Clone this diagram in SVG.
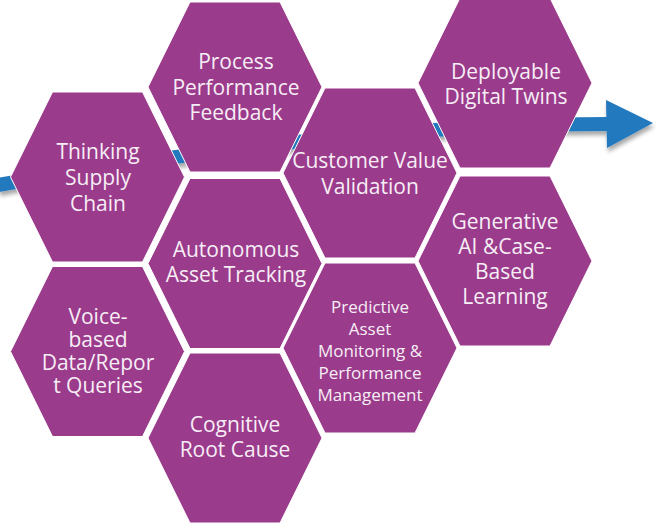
<svg xmlns="http://www.w3.org/2000/svg" xmlns:xlink="http://www.w3.org/1999/xlink" width="656" height="526" viewBox="0 0 656 526">
  <style>
    .hex { fill: #9B3B8C; stroke: #ffffff; stroke-width: 1; }
    .t { font-family: "Open Sans", "Liberation Sans", sans-serif; font-size: 21px; fill: #F6EEF5; text-anchor: middle; }
    .s { font-size: 17px; }
    .arrow { fill: none; stroke: #2479BD; stroke-width: 14; }
    .head { fill: #2479BD; }
  </style>
  <defs>
    <path id="hex" d="M-87,0 L-45,-85 L45,-85 L87,0 L45,85 L-45,85 Z"/>
    <filter id="shadow" x="-10%" y="-30%" width="120%" height="170%">
      <feDropShadow dx="1" dy="4" stdDeviation="2" flood-color="#000000" flood-opacity="0.35"/>
    </filter>
  </defs>
  <rect width="656" height="526" fill="#ffffff"/>
  <g id="connectors" filter="url(#shadow)">
    <path class="arrow" d="M-2,185 C200,150 400,124 608,124"/>
    <polygon class="head" points="606,100 653,123 607,148"/>
  </g>
  <g id="thinking-supply-chain">
    <use xlink:href="#hex" href="#hex" class="hex" transform="translate(97.5,177)"/>
    <text class="t" x="98" y="159">Thinking</text>
    <text class="t" x="98" y="185">Supply</text>
    <text class="t" x="98" y="211">Chain</text>
  </g>
  <g id="voice-based-queries">
    <use xlink:href="#hex" href="#hex" class="hex" transform="translate(97.5,351.5)"/>
    <text class="t" x="98" y="324">Voice-</text>
    <text class="t" x="98" y="347">based</text>
    <text class="t" x="98" y="370">Data/Repor</text>
    <text class="t" x="98" y="393">t Queries</text>
  </g>
  <g id="process-performance-feedback">
    <use xlink:href="#hex" href="#hex" class="hex" transform="translate(235,87)"/>
    <text class="t" x="236" y="69">Process</text>
    <text class="t" x="236" y="95">Performance</text>
    <text class="t" x="236" y="120">Feedback</text>
  </g>
  <g id="autonomous-asset-tracking">
    <use xlink:href="#hex" href="#hex" class="hex" transform="translate(235,263.5)"/>
    <text class="t" x="236" y="257">Autonomous</text>
    <text class="t" x="236" y="282">Asset Tracking</text>
  </g>
  <g id="cognitive-root-cause">
    <use xlink:href="#hex" href="#hex" class="hex" transform="translate(235,438)"/>
    <text class="t" x="235" y="432">Cognitive</text>
    <text class="t" x="235" y="457">Root Cause</text>
  </g>
  <g id="customer-value-validation">
    <use xlink:href="#hex" href="#hex" class="hex" transform="translate(370,173)"/>
    <text class="t" x="370" y="168">Customer Value</text>
    <text class="t" x="370" y="194">Validation</text>
  </g>
  <g id="predictive-asset-monitoring">
    <use xlink:href="#hex" href="#hex" class="hex" transform="translate(370,348)"/>
    <text class="t s" x="370" y="313">Predictive</text>
    <text class="t s" x="370" y="335">Asset</text>
    <text class="t s" x="370" y="357">Monitoring &amp;</text>
    <text class="t s" x="370" y="379">Performance</text>
    <text class="t s" x="370" y="401">Management</text>
  </g>
  <g id="deployable-digital-twins">
    <use xlink:href="#hex" href="#hex" class="hex" transform="translate(505,83)"/>
    <text class="t" x="506" y="79">Deployable</text>
    <text class="t" x="506" y="104">Digital Twins</text>
  </g>
  <g id="generative-ai-case-based-learning">
    <use xlink:href="#hex" href="#hex" class="hex" transform="translate(505,261)"/>
    <text class="t" x="505" y="229">Generative</text>
    <text class="t" x="505" y="254">AI &amp;Case-</text>
    <text class="t" x="505" y="279">Based</text>
    <text class="t" x="505" y="304">Learning</text>
  </g>
</svg>
